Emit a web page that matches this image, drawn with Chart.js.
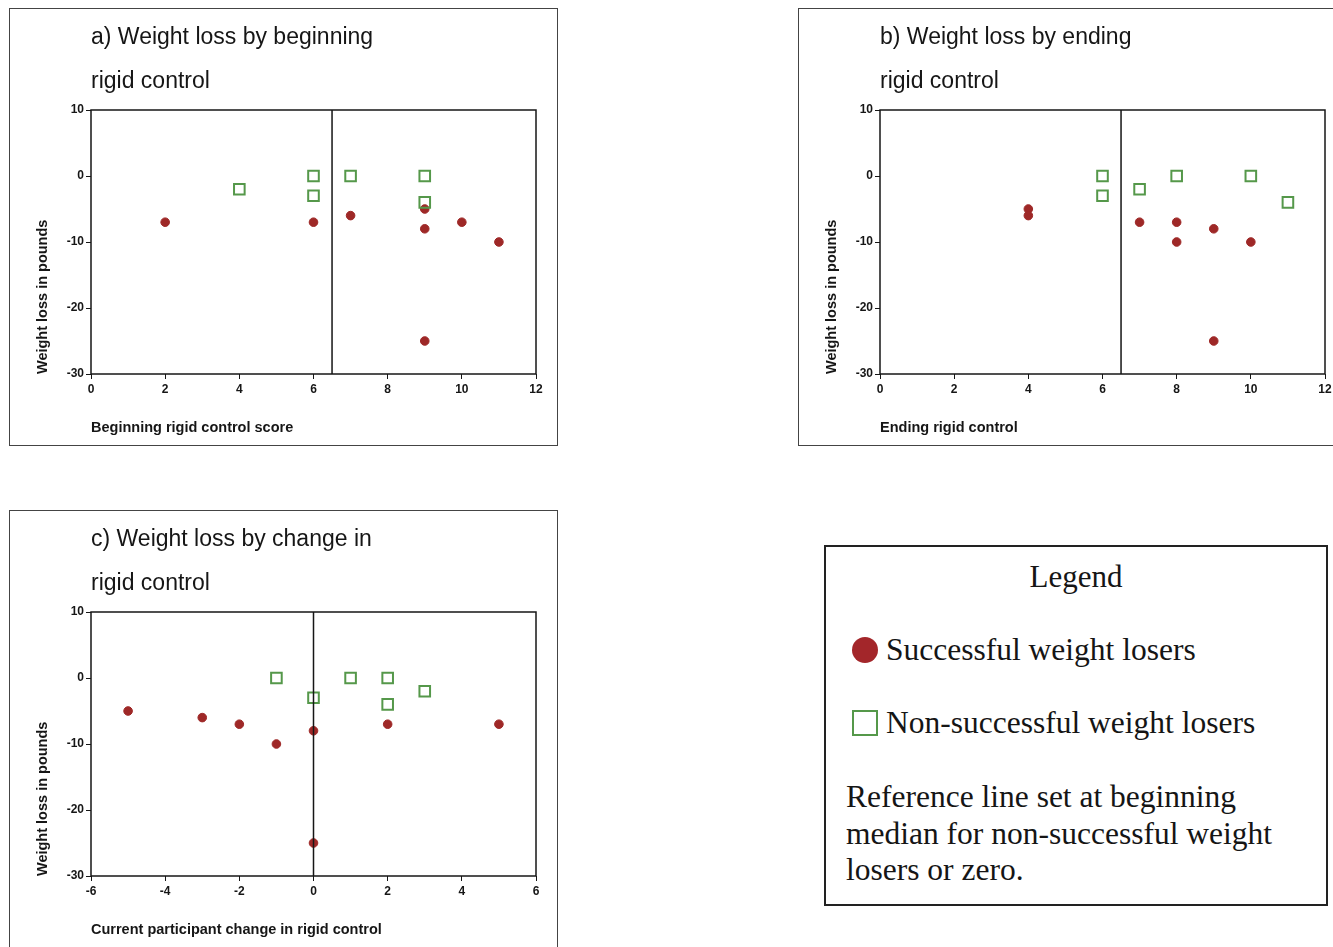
<!DOCTYPE html>
<html>
<head>
<meta charset="utf-8">
<script src="https://cdn.jsdelivr.net/npm/chart.js@4.4.0/dist/chart.umd.min.js"></script>
<style>
  body { margin: 0; width: 1333px; height: 947px; overflow: hidden; position: relative; background: #fff; }
  .panel { position: absolute; width: 547px; height: 436px; border: 1px solid #444; background: #fff; }
  .legend-box { position: absolute; left: 824px; top: 545px; width: 500px; height: 357px; border: 2px solid #222;
                font-family: 'Liberation Serif', 'Times New Roman', serif; color: #151515; }
  .legend-box div { position: absolute; white-space: nowrap; }
  .dot { width: 26px; height: 26px; border-radius: 50%; background: #a3262a; }
  .sq { width: 22px; height: 22px; border: 2px solid #55984a; background: #fff; }
</style>
</head>
<body>

<div class="panel" style="left:9px;top:8px"><canvas id="chartA" width="547" height="436"></canvas></div>
<div class="panel" style="left:798px;top:8px"><canvas id="chartB" width="547" height="436"></canvas></div>
<div class="panel" style="left:9px;top:510px"><canvas id="chartC" width="547" height="436"></canvas></div>

<div class="legend-box">
  <div style="left:0;width:500px;top:10px;line-height:40px;font-size:31px;text-align:center">Legend</div>
  <div class="dot" style="left:26px;top:90px"></div>
  <div style="left:60px;top:83px;line-height:40px;font-size:31.5px">Successful weight losers</div>
  <div class="sq" style="left:26px;top:163px"></div>
  <div style="left:60px;top:156px;line-height:40px;font-size:31.5px">Non-successful weight losers</div>
  <div style="left:20px;top:232px;line-height:36.5px;font-size:31.5px">Reference line set at beginning<br>median for non-successful weight<br>losers or zero.</div>
</div>

<script>
// a) beginning rigid control
const aSuccessX = [2, 6, 7, 9, 9, 9, 10, 11];
const aSuccessY = [-7, -7, -6, -5, -8, -25, -7, -10];
const aNonX = [4, 6, 6, 7, 9, 9];
const aNonY = [-2, 0, -3, 0, 0, -4];
const aRefX = 6.5;

// b) ending rigid control
const bSuccessX = [4, 4, 7, 8, 8, 9, 9, 10];
const bSuccessY = [-5, -6, -7, -7, -10, -8, -25, -10];
const bNonX = [6, 6, 7, 8, 10, 11];
const bNonY = [0, -3, -2, 0, 0, -4];
const bRefX = 6.5;

// c) change in rigid control
const cSuccessX = [-5, -3, -2, -1, 0, 0, 2, 5];
const cSuccessY = [-5, -6, -7, -10, -8, -25, -7, -7];
const cNonX = [-1, 0, 1, 2, 2, 3];
const cNonY = [0, -3, 0, 0, -4, -2];
const cRefX = 0;

// tick labels
const yTicks = [10, 0, -10, -20, -30];
const scoreTicks = [0, 2, 4, 6, 8, 10, 12];
const changeTicks = [-6, -4, -2, 0, 2, 4, 6];

const sans = "'Liberation Sans', Arial, sans-serif";
const red = '#9e2827';
const green = '#55984a';
const ink = '#161616';

// box around the plot area
const frame = {
    id: 'frame',
    beforeDatasetsDraw(chart) {
        const {ctx, chartArea: a} = chart;
        ctx.save();
        ctx.strokeStyle = ink;
        ctx.lineWidth = 1.5;
        ctx.strokeRect(a.left, a.top, a.right - a.left, a.bottom - a.top);
        ctx.restore();
    }
};

function points(xs, ys) {
    return xs.map((x, i) => ({x: x, y: ys[i]}));
}

function makeChart(id, titleLines, xTitle, xTicks, refX, sx, sy, nx, ny) {
    const yMax = Math.max(...yTicks);
    const yMin = Math.min(...yTicks);
    new Chart(document.getElementById(id), {
        type: 'scatter',
        data: {
            datasets: [{
                label: 'Reference line',
                data: [{x: refX, y: yMax}, {x: refX, y: yMin}],
                showLine: true,
                borderColor: ink,
                borderWidth: 1.5,
                pointRadius: 0
            }, {
                label: 'Non-successful weight losers',
                data: points(nx, ny),
                pointStyle: 'rect',
                pointRadius: 7.5,
                backgroundColor: 'rgba(255,255,255,0)',
                borderColor: green,
                borderWidth: 2
            }, {
                label: 'Successful weight losers',
                data: points(sx, sy),
                pointStyle: 'circle',
                pointRadius: 4.3,
                backgroundColor: red,
                borderColor: red,
                borderWidth: 1
            }]
        },
        options: {
            responsive: false,
            animation: false,
            layout: { padding: { left: 24, right: 21, top: 0, bottom: 8 } },
            plugins: {
                legend: { display: false },
                tooltip: { enabled: false },
                title: {
                    display: true,
                    text: titleLines,
                    align: 'start',
                    fullSize: false,
                    color: ink,
                    font: { family: sans, size: 23, weight: 'normal', lineHeight: 44 / 23 },
                    padding: { top: 7, bottom: 6 }
                }
            },
            scales: {
                x: {
                    type: 'linear',
                    min: xTicks[0],
                    max: xTicks[xTicks.length - 1],
                    afterBuildTicks: s => { s.ticks = xTicks.map(v => ({value: v})); },
                    afterFit: s => { s.height = 63; },
                    border: { display: false },
                    grid: { drawOnChartArea: false, drawTicks: true, tickLength: 5, color: ink },
                    ticks: { color: ink, font: { family: sans, size: 12, weight: 'bold' }, padding: 3 },
                    title: { display: true, text: xTitle, align: 'start', color: ink,
                             font: { family: sans, size: 14.5, weight: 'bold' }, padding: 0 }
                },
                y: {
                    type: 'linear',
                    min: yMin,
                    max: yMax,
                    afterBuildTicks: s => { s.ticks = yTicks.map(v => ({value: v})); },
                    afterFit: s => { s.width = 57; },
                    border: { display: false },
                    grid: { drawOnChartArea: false, drawTicks: true, tickLength: 5, color: ink },
                    ticks: { color: ink, font: { family: sans, size: 12, weight: 'bold' }, padding: 2 },
                    title: { display: true, text: 'Weight loss in pounds', align: 'start', color: ink,
                             font: { family: sans, size: 14.5, weight: 'bold' }, padding: 0 }
                }
            }
        },
        plugins: [frame]
    });
}

document.addEventListener('DOMContentLoaded', function() {
    makeChart('chartA', ['a) Weight loss by beginning', 'rigid control'], 'Beginning rigid control score',
              scoreTicks, aRefX, aSuccessX, aSuccessY, aNonX, aNonY);
    makeChart('chartB', ['b) Weight loss by ending', 'rigid control'], 'Ending rigid control',
              scoreTicks, bRefX, bSuccessX, bSuccessY, bNonX, bNonY);
    makeChart('chartC', ['c) Weight loss by change in', 'rigid control'], 'Current participant change in rigid control',
              changeTicks, cRefX, cSuccessX, cSuccessY, cNonX, cNonY);
});
</script>
</body>
</html>
